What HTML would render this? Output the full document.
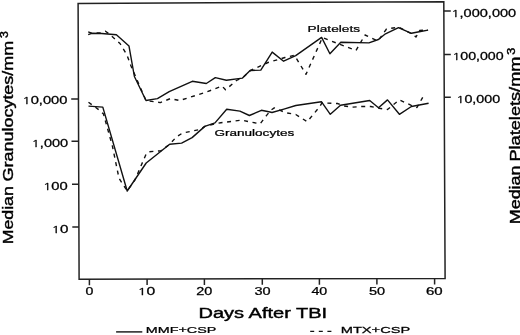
<!DOCTYPE html>
<html><head><meta charset="utf-8"><title>Median Granulocytes and Platelets after TBI</title>
<style>
html,body{margin:0;padding:0;background:#fff;}
body{width:520px;height:335px;overflow:hidden;}
svg{display:block;}
text{font-family:"Liberation Sans", Arial, Helvetica, sans-serif;fill:#000;stroke:#000;stroke-width:0.25px;}
.big{stroke-width:0.4px;}
.n1{font-family:NanumGothic,"Liberation Sans",sans-serif;font-size:94%;}
</style></head><body>
<svg width="520" height="335" viewBox="0 0 520 335">
<rect width="520" height="335" fill="#fff"/>
<g fill="none" stroke="#222" stroke-width="1.5" stroke-linejoin="miter">
<path d="M78.1,3.4 L443.8,1.7 L445.1,278.5 L79.1,279.2 Z"/>
<path d="M89.4,279.2V285.2 M147.1,279.1V285.1 M204.4,279.0V285.0 M262.3,278.8V284.8 M319.4,278.7V284.7 M376.9,278.6V284.6 M434.6,278.5V284.5 M71.2,98.9H78.4 M71.5,141.3H78.6 M72.0,184.3H78.8 M72.3,227.0H78.9 M443.8,11.1H450.8 M444.0,54.6H450.8 M444.2,97.3H450.8"/>
</g>
<g fill="none" stroke="#111" stroke-width="1.4" stroke-linejoin="round" stroke-linecap="butt">
<polyline points="88.2,34.7 91.7,33.3 101.7,33.5 116.4,34.7 129.0,46.1 134.4,76.5 146.0,100.5 157.4,98.6 169.2,91.7 192.3,81.3 206.3,83.5 215.3,77.6 226.4,80.3 242.5,78.1 250.1,70.5 260.8,70.1 272.2,52.1 283.6,61.2 295.7,55.6 321.6,37.4 329.9,53.8 340.8,42.2 368.9,42.9 378.4,39.5 385.5,33.8 398.5,27.6 411.4,33.3 419.2,31.8 428.1,30.1"/>
<polyline points="88.5,106.1 102.8,107.1 127.2,191.0 146.2,163.0 169.7,144.3 181.6,143.1 192.1,137.6 204.8,126.4 215.0,122.9 226.7,109.3 239.9,111.1 249.4,115.5 261.4,110.3 270.0,112.0 272.0,112.5 283.9,109.1 295.8,105.5 321.4,101.7 330.3,114.3 340.5,105.3 369.7,100.5 378.5,107.7 387.5,99.9 399.4,114.3 411.4,106.5 428.6,103.3"/>
<polyline points="88.2,31.9 91.7,33.1 100.2,32.7 105.5,31.3 109.0,33.8 120.0,43.5 127.0,55.0 131.0,66.0 146.0,100.6 160.3,102.6 170.4,98.6 179.6,100.5 205.0,92.6 222.0,86.0 225.5,89.8 236.5,80.5 244.0,76.5 250.5,70.5 268.0,62.5 285.0,57.5 294.5,55.3 306.0,74.3 322.4,37.6 356.0,50.5 365.0,35.0 378.0,41.0 386.5,29.0 398.5,27.2 412.0,33.8 416.0,37.0 419.5,30.5 428.0,30.0" stroke-dasharray="4 4.6"/>
<polyline points="88.5,102.2 98.8,109.8 103.5,114.0 112.3,145.7 119.0,178.2 127.2,191.0 134.8,180.2 146.2,153.9 148.7,151.8 161.0,150.7 169.7,144.3 176.4,136.9 182.4,133.1 200.3,129.4 204.8,126.4 215.4,123.7 220.8,122.7 242.3,120.1 249.4,121.9 260.2,123.7 266.2,115.9 270.8,110.3 274.3,107.9 285.7,112.7 295.8,114.5 307.2,121.7 319.7,106.7 322.0,102.9 337.5,103.5 343.5,105.9 353.0,107.1 361.4,106.5 370.8,106.5 379.1,108.3 387.5,109.5 399.4,99.9 411.3,105.3 417.0,107.5 422.7,97.3" stroke-dasharray="4 4.6"/>
<path d="M116.1,331.9H142.3"/>
<path d="M310.2,331.4H332.3" stroke-dasharray="4 4.6"/>
</g>
<text transform="translate(85.43 294.80) scale(1.4167 1)" font-size="10">0</text>
<text transform="translate(137.48 294.80) scale(1.5707 1)" font-size="10"><tspan class="n1">1</tspan>0</text>
<text transform="translate(196.18 294.80) scale(1.4439 1)" font-size="10">20</text>
<text transform="translate(254.42 294.80) scale(1.4493 1)" font-size="10">30</text>
<text transform="translate(311.42 294.80) scale(1.4218 1)" font-size="10">40</text>
<text transform="translate(369.02 294.80) scale(1.4493 1)" font-size="10">50</text>
<text transform="translate(425.95 294.80) scale(1.5024 1)" font-size="10">60</text>
<text transform="translate(22.32 104.30) scale(1.4402 1)" font-size="10.2"><tspan class="n1">1</tspan>0,000</text>
<text transform="translate(31.53 147.30) scale(1.4298 1)" font-size="10.2"><tspan class="n1">1</tspan>,000</text>
<text transform="translate(42.91 190.00) scale(1.4479 1)" font-size="10.2"><tspan class="n1">1</tspan>00</text>
<text transform="translate(51.45 233.20) scale(1.4886 1)" font-size="10.2"><tspan class="n1">1</tspan>0</text>
<text transform="translate(451.23 16.60) scale(1.4283 1)" font-size="10.2"><tspan class="n1">1</tspan>,000,000</text>
<text transform="translate(452.19 59.80) scale(1.3904 1)" font-size="10.2"><tspan class="n1">1</tspan>00,000</text>
<text transform="translate(456.27 103.10) scale(1.4030 1)" font-size="10.2"><tspan class="n1">1</tspan>0,000</text>
<text transform="translate(307.61 31.80) scale(1.3962 1)" font-size="9.8">Platelets</text>
<text transform="translate(214.42 136.40) scale(1.4423 1)" font-size="9.4">Granulocytes</text>
<text transform="translate(198.50 317.80) scale(1.4516 1)" font-size="13.8" class="big">Days After TBI</text>
<text transform="translate(145.75 333.10) scale(1.5135 1)" font-size="9.5">MMF+CSP</text>
<text transform="translate(340.73 332.90) scale(1.5425 1)" font-size="9.5">MTX+CSP</text>
<text transform="translate(13.20 244.22) rotate(-90) scale(1.2467 1)" font-size="14.2" class="big">Median</text>
<text transform="translate(13.20 181.50) rotate(-90) scale(1.2662 1)" font-size="14.2" class="big">Granulocytes/mm</text>
<text transform="translate(8.30 38.00) rotate(-90) scale(1.2178 1)" font-size="10.2" class="big">3</text>
<text transform="translate(520.20 224.13) rotate(-90) scale(1.2579 1)" font-size="14.2" class="big">Median</text>
<text transform="translate(520.20 161.56) rotate(-90) scale(1.2810 1)" font-size="14.2" class="big">Platelets/mm</text>
<text transform="translate(514.90 54.81) rotate(-90) scale(1.2384 1)" font-size="10.2" class="big">3</text>
</svg>
</body></html>
